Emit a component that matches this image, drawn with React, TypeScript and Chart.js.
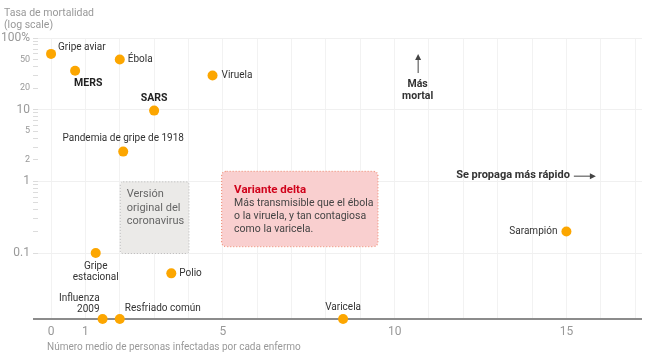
import React, { useEffect, useRef } from 'react';
import { Chart, registerables } from 'chart.js';

Chart.register(...registerables);

const FONT = 'Roboto, "Liberation Sans", sans-serif';

// ---- data ----
const diseases = [
  'Gripe aviar',
  'MERS',
  'Ébola',
  'Viruela',
  'SARS',
  'Pandemia de gripe de 1918',
  'Gripe estacional',
  'Polio',
  'Influenza 2009',
  'Resfriado común',
  'Varicela',
  'Sarampión',
];
const Y_MIN = 0.012;
const Y_MAX = 100;
const X_MIN = -0.38;
const X_MAX = 17.2;
// average number of people infected by each sick person
const contagion = [0, 0.7, 2, 4.7, 3, 2.1, 1.3, 3.5, 1.5, 2, 8.5, 15];
// mortality rate (%)
const mortality = [60, 35, 50, 30, 9.7, 2.6, 0.1, 0.052, Y_MIN, Y_MIN, Y_MIN, 0.2];

const xTickValues = [0, 1, 2, 3, 4, 5, 6, 7, 8, 9, 10, 11, 12, 13, 14, 15, 16, 17];
const xTickLabels = ['0', '1', '', '', '', '5', '', '', '', '', '10', '', '', '', '', '15', '', ''];

const yTickValues = [
  0.1, 0.2, 0.3, 0.4, 0.5, 0.6, 0.7, 0.8, 0.9,
  1, 2, 3, 4, 5, 6, 7, 8, 9,
  10, 20, 30, 40, 50, 60, 70, 80, 90,
  100,
];
const yTickLabels = [
  '0.1', '', '', '', '', '', '', '', '',
  '1', '2', '', '', '5', '', '', '', '',
  '10', '20', '', '', '50', '', '', '', '',
  '100%',
];
const yMajorValues = [0.1, 1, 10, 100];

// shaded ranges (contagion range, mortality range)
const originalRangeX = [2, 4];
const originalRangeY = [0.1, 1];
const deltaRangeX = [4.95, 9.5];
const deltaRangeY = [0.125, 1.4];

const originalText = ['Versión', 'original del', 'coronavirus'];
const deltaTitle = 'Variante delta';
const deltaText = ['Más transmisible que el ébola', 'o la viruela, y tan contagiosa', 'como la varicela.'];

// ---- label styles (offsets in px from each point) ----
type Place = { dx: number; dy: number; align: CanvasTextAlign; bold?: boolean; lh?: number };
const labelPlacement: Place[] = [
  { dx: 7, dy: -6, align: 'left' },
  { dx: -1, dy: 13, align: 'left', bold: true },
  { dx: 8, dy: 0, align: 'left' },
  { dx: 9, dy: 0, align: 'left' },
  { dx: 0, dy: -12, align: 'center', bold: true },
  { dx: 0, dy: -13, align: 'center' },
  { dx: 0, dy: 13, align: 'center', lh: 11.5 },
  { dx: 8, dy: 0, align: 'left' },
  { dx: -3, dy: -21, align: 'right', lh: 11.5 },
  { dx: 5, dy: -11, align: 'left' },
  { dx: 0, dy: -12, align: 'center' },
  { dx: -9, dy: 0, align: 'right' },
];
const labelLines = [
  ['Gripe aviar'],
  ['MERS'],
  ['Ébola'],
  ['Viruela'],
  ['SARS'],
  ['Pandemia de gripe de 1918'],
  ['Gripe', 'estacional'],
  ['Polio'],
  ['Influenza', '2009'],
  ['Resfriado común'],
  ['Varicela'],
  ['Sarampión'],
];

function roundRect(ctx: CanvasRenderingContext2D, x: number, y: number, w: number, h: number, r: number) {
  ctx.beginPath();
  ctx.moveTo(x + r, y);
  ctx.lineTo(x + w - r, y);
  ctx.quadraticCurveTo(x + w, y, x + w, y + r);
  ctx.lineTo(x + w, y + h - r);
  ctx.quadraticCurveTo(x + w, y + h, x + w - r, y + h);
  ctx.lineTo(x + r, y + h);
  ctx.quadraticCurveTo(x, y + h, x, y + h - r);
  ctx.lineTo(x, y + r);
  ctx.quadraticCurveTo(x, y, x + r, y);
  ctx.closePath();
}

const overlayPlugin = {
  id: 'overlay',
  beforeDatasetsDraw(chart: any) {
    const { ctx, chartArea } = chart;
    const xs = chart.scales.x;
    const ys = chart.scales.y;
    ctx.save();
    // original box
    {
      const l = xs.getPixelForValue(originalRangeX[0]);
      const r = xs.getPixelForValue(originalRangeX[1]);
      const t = ys.getPixelForValue(originalRangeY[1]);
      const b = ys.getPixelForValue(originalRangeY[0]);
      roundRect(ctx, l + 0.5, t + 0.5, r - l, b - t, 3);
      ctx.fillStyle = '#ebeae8';
      ctx.fill();
      ctx.setLineDash([1, 2]);
      ctx.lineWidth = 1;
      ctx.strokeStyle = '#b8b8b8';
      ctx.stroke();
      ctx.setLineDash([]);
    }
    // delta box
    {
      const l = xs.getPixelForValue(deltaRangeX[0]);
      const r = xs.getPixelForValue(deltaRangeX[1]);
      const t = ys.getPixelForValue(deltaRangeY[1]);
      const b = ys.getPixelForValue(deltaRangeY[0]);
      roundRect(ctx, l + 0.5, t + 0.5, r - l, b - t, 5);
      ctx.fillStyle = '#f9cfcf';
      ctx.fill();
      ctx.setLineDash([1, 2]);
      ctx.lineWidth = 1.2;
      ctx.strokeStyle = '#f0957f';
      ctx.stroke();
      ctx.setLineDash([]);
    }
    // bottom axis line
    ctx.beginPath();
    ctx.moveTo(chartArea.left - 5, chartArea.bottom);
    ctx.lineTo(chartArea.right, chartArea.bottom);
    ctx.lineWidth = 2;
    ctx.strokeStyle = '#8c8c8c';
    ctx.stroke();
    ctx.restore();
  },
  afterDatasetsDraw(chart: any) {
    const { ctx } = chart;
    const xs = chart.scales.x;
    const ys = chart.scales.y;
    ctx.save();
    ctx.textBaseline = 'middle';
    // point labels
    diseases.forEach((_, i) => {
      const p = labelPlacement[i];
      const px = xs.getPixelForValue(contagion[i]);
      const py = ys.getPixelForValue(mortality[i]);
      ctx.font = `${p.bold ? 'bold 10.5px' : '10px'} ${FONT}`;
      ctx.fillStyle = p.bold ? '#222' : '#333';
      ctx.textAlign = p.align;
      labelLines[i].forEach((line, k) => {
        ctx.fillText(line, px + p.dx, py + p.dy + k * (p.lh || 12));
      });
    });
    // original box text
    {
      const l = xs.getPixelForValue(originalRangeX[0]);
      const t = ys.getPixelForValue(originalRangeY[1]);
      ctx.font = `11px ${FONT}`;
      ctx.fillStyle = '#666';
      ctx.textAlign = 'left';
      originalText.forEach((line, k) => ctx.fillText(line, l + 7, t + 13 + k * 13.5));
    }
    // delta box text
    {
      const l = xs.getPixelForValue(deltaRangeX[0]);
      const t = ys.getPixelForValue(deltaRangeY[1]);
      ctx.textAlign = 'left';
      ctx.font = `bold 11.5px ${FONT}`;
      ctx.fillStyle = '#d0021b';
      ctx.fillText(deltaTitle, l + 13, t + 19);
      ctx.font = `10.5px ${FONT}`;
      ctx.fillStyle = '#444';
      deltaText.forEach((line, k) => ctx.fillText(line, l + 13, t + 32.5 + k * 13));
    }
    // "Más mortal"
    {
      const cx = xs.getPixelForValue(10.67);
      const ty = ys.getPixelForValue(22.8);
      ctx.font = `bold 10.5px ${FONT}`;
      ctx.fillStyle = '#333';
      ctx.textAlign = 'center';
      ctx.fillText('Más', cx, ty);
      ctx.fillText('mortal', cx, ty + 12);
      ctx.strokeStyle = '#444';
      ctx.lineWidth = 1;
      ctx.beginPath();
      ctx.moveTo(cx + 0.5, ty - 11);
      ctx.lineTo(cx + 0.5, ty - 27);
      ctx.stroke();
      ctx.beginPath();
      ctx.moveTo(cx + 0.5, ty - 30);
      ctx.lineTo(cx - 2.5, ty - 24);
      ctx.lineTo(cx + 3.5, ty - 24);
      ctx.closePath();
      ctx.fillStyle = '#444';
      ctx.fill();
    }
    // "Se propaga más rápido"
    {
      const rx = xs.getPixelForValue(15.1);
      const my = ys.getPixelForValue(1.2);
      ctx.font = `bold 11px ${FONT}`;
      ctx.fillStyle = '#333';
      ctx.textAlign = 'right';
      ctx.fillText('Se propaga más rápido', rx, my);
      ctx.strokeStyle = '#444';
      ctx.lineWidth = 1;
      ctx.beginPath();
      ctx.moveTo(rx + 4, my + 0.5);
      ctx.lineTo(rx + 21, my + 0.5);
      ctx.stroke();
      ctx.beginPath();
      ctx.moveTo(rx + 26, my + 0.5);
      ctx.lineTo(rx + 20, my - 2.5);
      ctx.lineTo(rx + 20, my + 3.5);
      ctx.closePath();
      ctx.fillStyle = '#444';
      ctx.fill();
    }
    ctx.restore();
  },
  afterDraw(chart: any) {
    const { ctx, chartArea } = chart;
    ctx.save();
    ctx.textBaseline = 'middle';
    ctx.textAlign = 'left';
    ctx.fillStyle = '#999';
    ctx.font = `10.5px ${FONT}`;
    ctx.fillText('Tasa de mortalidad', 4, 13);
    ctx.fillText('(log scale)', 4, 25);
    ctx.font = `10px ${FONT}`;
    ctx.fillText('Número medio de personas infectadas por cada enfermo', chartArea.left + 9, 347);
    ctx.restore();
  },
};

export default function App() {
  const ref = useRef<HTMLCanvasElement | null>(null);
  useEffect(() => {
    if (!ref.current) return;
    const chart = new Chart(ref.current, {
      type: 'scatter',
      data: {
        datasets: [
          {
            data: contagion.map((c, i) => ({ x: c, y: mortality[i] })),
            backgroundColor: 'rgb(252,166,0)',
            borderWidth: 0,
            pointRadius: 5,
            pointHoverRadius: 5,
            clip: false as any,
          },
        ],
      },
      options: {
        animation: false,
        responsive: false,
        devicePixelRatio: 1,
        events: [],
        layout: { padding: { top: 38, right: 17, left: 0, bottom: 0 } },
        plugins: { legend: { display: false }, tooltip: { enabled: false }, title: { display: false } },
        scales: {
          x: {
            type: 'linear',
            min: X_MIN,
            max: X_MAX,
            afterBuildTicks: (scale: any) => {
              scale.ticks = xTickValues.map((v) => ({ value: v }));
            },
            afterFit: (scale: any) => {
              scale.height = 38;
            },
            ticks: {
              autoSkip: false,
              maxRotation: 0,
              padding: 6,
              color: '#999',
              font: { family: FONT, size: 12 },
              callback: (v: any) => {
                const i = xTickValues.indexOf(Number(v));
                return i >= 0 ? xTickLabels[i] : '';
              },
            },
            grid: { color: '#f2f2f2', drawTicks: false, lineWidth: 1 },
            border: { display: false },
          },
          y: {
            type: 'logarithmic',
            min: Y_MIN,
            max: Y_MAX,
            afterBuildTicks: (scale: any) => {
              scale.ticks = yTickValues.map((v) => ({ value: v }));
            },
            afterFit: (scale: any) => {
              scale.width = 38;
            },
            ticks: {
              autoSkip: false,
              padding: 3,
              color: '#999',
              font: (ctx: any) => ({
                family: FONT,
                size: ctx.tick && yMajorValues.includes(ctx.tick.value) ? 12 : 9,
              }),
              callback: (v: any) => {
                const i = yTickValues.indexOf(Number(v));
                return i >= 0 ? yTickLabels[i] : '';
              },
            },
            grid: {
              color: (ctx: any) =>
                ctx.tick && yMajorValues.includes(ctx.tick.value) ? '#f0f0f0' : 'rgba(0,0,0,0)',
              tickColor: '#dcdcdc',
              tickLength: 5,
              drawTicks: true,
            },
            border: { display: false },
          },
        },
      },
      plugins: [overlayPlugin],
    });
    return () => chart.destroy();
  }, []);
  return (
    <div style={{ position: 'fixed', left: 0, top: 0, width: 659, height: 357, background: '#fff' }}>
      <canvas ref={ref} width={659} height={357} />
    </div>
  );
}
